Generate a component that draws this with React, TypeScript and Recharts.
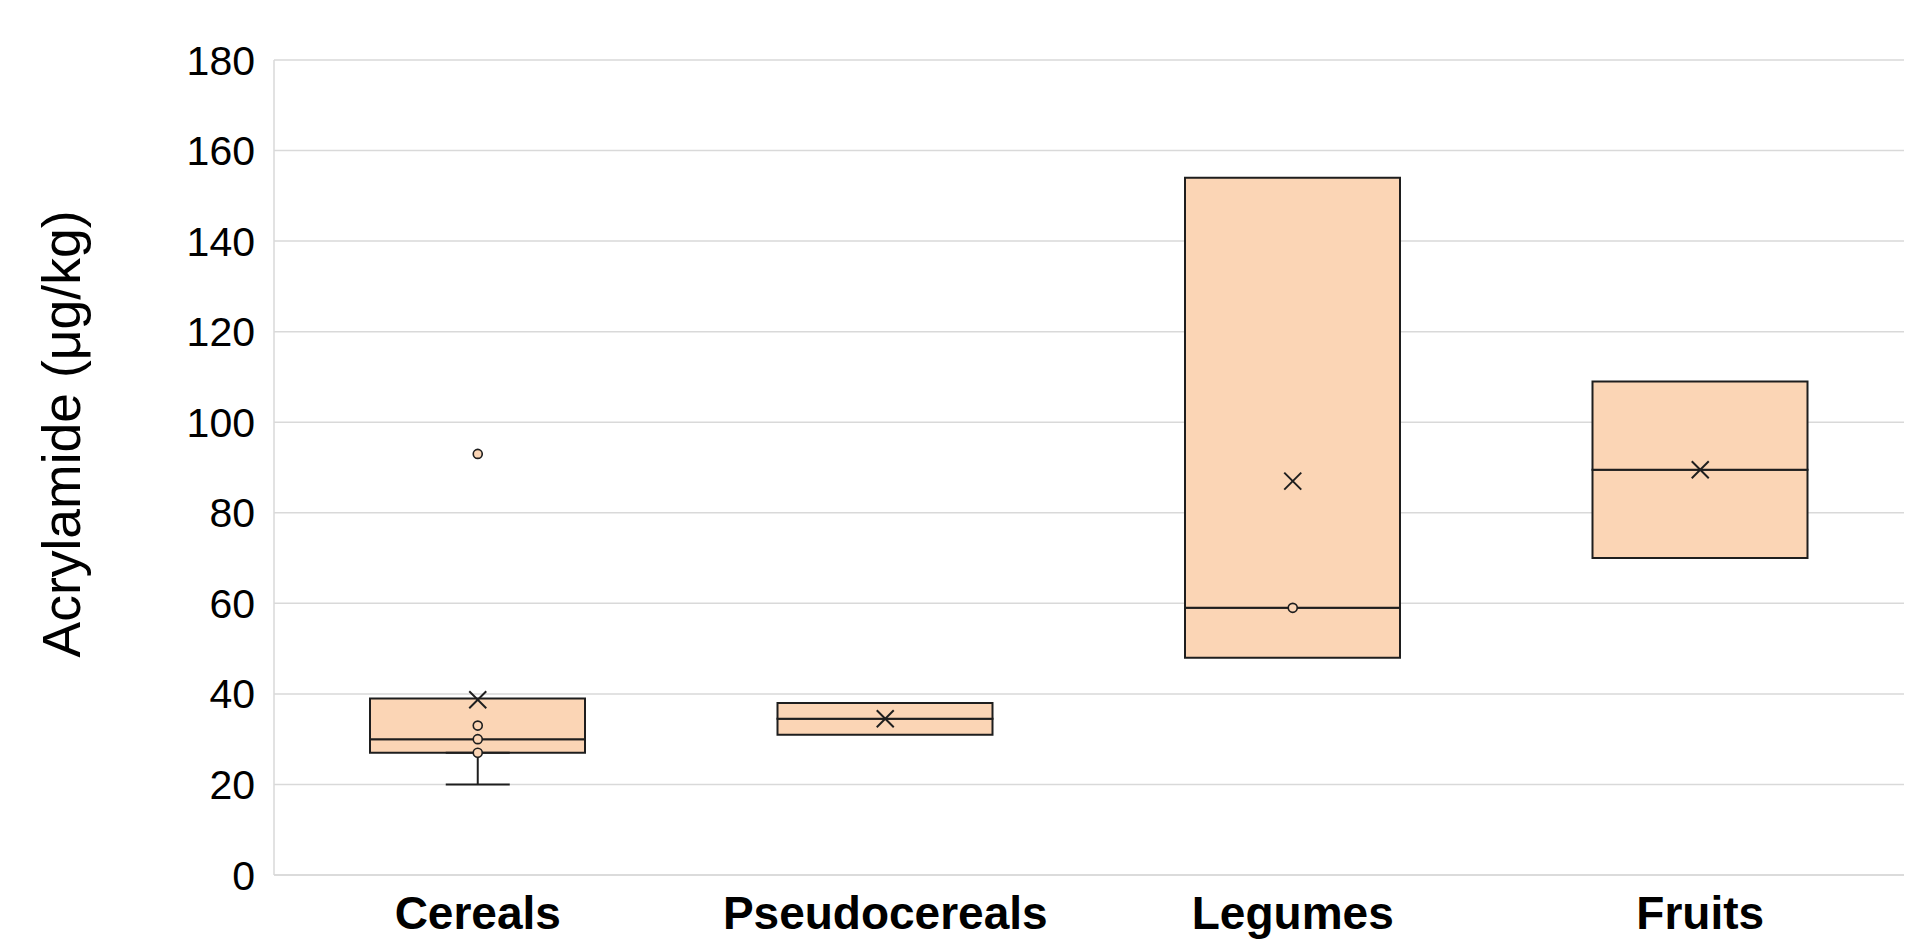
import React from 'react';
import { ComposedChart, Bar, Scatter, XAxis, YAxis, CartesianGrid, ErrorBar } from 'recharts';

const categories = ['Cereals', 'Pseudocereals', 'Legumes', 'Fruits'];
const q1Values = [27, 31, 48, 70];
const medianValues = [30, 34.5, 59, 89.5];
const q3Values = [39, 38, 154, 109];
const meanValues = [38.7, 34.5, 87, 89.5];
const pointValues: number[][] = [[93, 33, 30, 27], [], [59], []];
const whiskerCategories = ['Cereals'];
const whiskerBottoms = [20];
const whiskerTops = [27];
const yTicks = [0, 20, 40, 60, 80, 100, 120, 140, 160, 180];

const FILL = '#FBD5B5';
const EDGE = '#1e1e1e';
const GRID = '#d9d9d9';
const FONT = '"Liberation Sans", Arial, Helvetica, sans-serif';

const chartData = categories.map((name, i) => {
  const row: Record<string, any> = {
    name,
    base: q1Values[i],
    lower: medianValues[i] - q1Values[i],
    upper: q3Values[i] - medianValues[i],
    mean: meanValues[i],
  };
  pointValues[i].forEach((v, j) => {
    row['p' + j] = v;
  });
  return row;
});

const maxPoints = Math.max(...pointValues.map((p) => p.length));
const pointKeys = Array.from({ length: maxPoints }, (_, j) => 'p' + j);

const whiskerData = whiskerCategories.map((name, i) => ({
  name,
  anchor: whiskerTops[i],
  err: [whiskerTops[i] - whiskerBottoms[i], 0],
}));

const valid = (v: any) => typeof v === 'number' && Number.isFinite(v);

const MeanMark = (props: any) => {
  const { cx, cy } = props;
  if (!valid(cx) || !valid(cy)) return <g />;
  const s = 8.5;
  return (
    <g>
      <line x1={cx - s} y1={cy - s} x2={cx + s} y2={cy + s} stroke={EDGE} strokeWidth={2} />
      <line x1={cx - s} y1={cy + s} x2={cx + s} y2={cy - s} stroke={EDGE} strokeWidth={2} />
    </g>
  );
};

const PointMark = (props: any) => {
  const { cx, cy } = props;
  if (!valid(cx) || !valid(cy)) return <g />;
  return <circle cx={cx} cy={cy} r={4.5} fill={FILL} stroke={EDGE} strokeWidth={1.6} />;
};

const EmptyMark = () => <g />;

const TitleLabel = () => (
  <text
    x={80}
    y={434}
    transform="rotate(-90, 80, 434)"
    textAnchor="middle"
    fontSize={53.5}
    fontFamily={FONT}
    fill="#000"
  >
    Acrylamide (μg/kg)
  </text>
);

export default function App() {
  return (
    <div style={{ position: 'absolute', left: 0, top: 0, background: '#fff' }}>
      <ComposedChart
        width={1925}
        height={941}
        data={chartData}
        margin={{ top: 60, right: 21, bottom: 0, left: 0 }}
        barCategoryGap={0}
      >
        <CartesianGrid vertical={false} stroke={GRID} strokeWidth={1.5} />
        <XAxis
          dataKey="name"
          type="category"
          allowDuplicatedCategory={false}
          height={66}
          tickLine={false}
          tickSize={6}
          tickMargin={15}
          interval={0}
          axisLine={{ stroke: GRID, strokeWidth: 1.5 }}
          tick={{ fontSize: 46, fontWeight: 700, fill: '#000', fontFamily: FONT }}
        />
        <YAxis
          type="number"
          domain={[0, 180]}
          ticks={yTicks}
          interval={0}
          width={274}
          tickLine={false}
          tickSize={6}
          tickMargin={13}
          axisLine={{ stroke: GRID, strokeWidth: 1.5 }}
          tick={{ fontSize: 41, fill: '#000', fontFamily: FONT }}
          label={{ content: TitleLabel }}
        />
        <Bar dataKey="base" stackId="box" fill="transparent" stroke="none" barSize={215} isAnimationActive={false} />
        <Bar dataKey="lower" stackId="box" fill={FILL} stroke={EDGE} strokeWidth={2} barSize={215} isAnimationActive={false} />
        <Bar dataKey="upper" stackId="box" fill={FILL} stroke={EDGE} strokeWidth={2} barSize={215} isAnimationActive={false} />
        <Scatter data={whiskerData} dataKey="anchor" shape={EmptyMark} isAnimationActive={false}>
          <ErrorBar dataKey="err" direction="y" width={32} stroke={EDGE} strokeWidth={2} isAnimationActive={false} />
        </Scatter>
        {pointKeys.map((k) => (
          <Scatter key={k} dataKey={k} shape={PointMark} isAnimationActive={false} />
        ))}
        <Scatter dataKey="mean" shape={MeanMark} isAnimationActive={false} />
      </ComposedChart>
    </div>
  );
}
